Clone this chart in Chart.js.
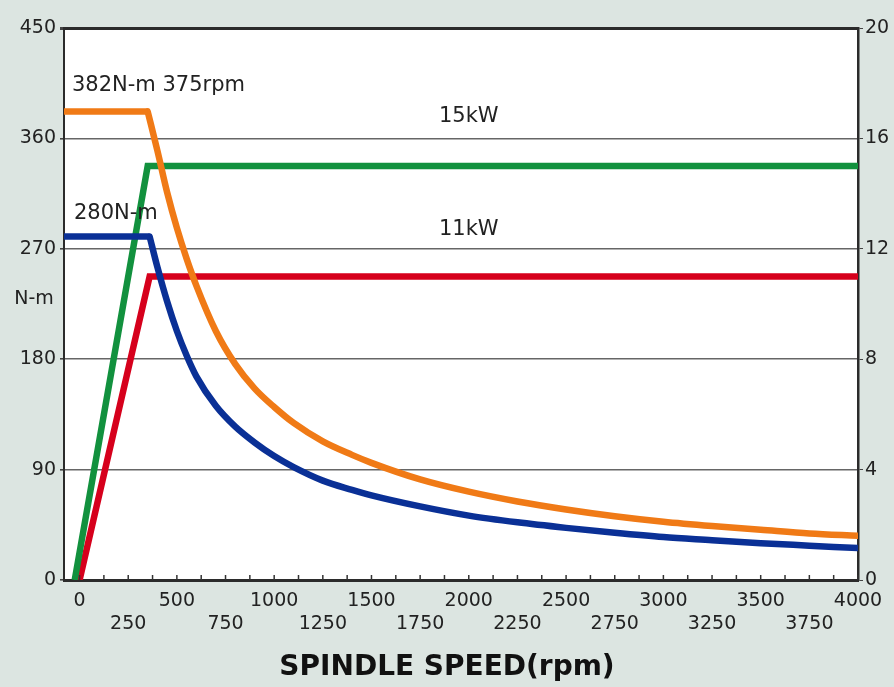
<!DOCTYPE html>
<html>
<head>
<meta charset="utf-8">
<script src="https://cdn.jsdelivr.net/npm/chart.js@4/dist/chart.umd.min.js"></script>
<style>
  html, body { margin: 0; padding: 0; background: #dce5e1; }
  #wrap { width: 894px; height: 687px; }
</style>
</head>
<body>
<div id="wrap"><canvas id="c" width="894" height="687"></canvas></div>
<script>
// ---- data ----
const xMajorLabels = [0, 500, 1000, 1500, 2000, 2500, 3000, 3500, 4000];
const xMinorLabels = [250, 750, 1250, 1750, 2250, 2750, 3250, 3750];
const torqueTicks = [0, 90, 180, 270, 360, 450];
const powerTicks = [0, 4, 8, 12, 16, 20];

// 15 kW torque curve (N-m); first two points are the constant-torque part
const torque15Rpm = [-80, 350, 400, 450, 500, 550, 600, 700, 800, 900, 1000, 1100, 1250, 1400, 1500, 1750, 2000, 2250, 2500, 2750, 3000, 3250, 3500, 3750, 4000];
const torque15Val = [382, 382, 350, 316, 287, 262, 240, 203, 176, 156, 141, 128, 113, 102, 95.5, 82, 72, 64, 57.5, 52, 47.5, 44, 41, 38, 36];

// 11 kW torque curve (N-m); first two points are the constant-torque part
const torque11Rpm = [-80, 360, 400, 450, 500, 550, 600, 700, 800, 900, 1000, 1100, 1250, 1400, 1500, 1750, 2000, 2250, 2500, 2750, 3000, 3250, 3500, 3750, 4000];
const torque11Val = [280, 280, 255, 227, 203, 183, 166, 142, 125, 112, 101, 92, 81, 73.5, 69, 60, 52.5, 47, 42.5, 38.5, 35, 32.5, 30, 28, 26];

// 15 kW power curve (kW)
const power15Rpm = [-25, 350, 4000];
const power15Val = [0, 15, 15];

// 11 kW power curve (kW)
const power11Rpm = [0, 360, 4000];
const power11Val = [0, 11, 11];

const zip = (xs, ys) => xs.map((x, i) => ({ x: x, y: ys[i] }));

const FONT = "'DejaVu Sans', 'Liberation Sans', sans-serif";
const TEXT = '#222';
const ORANGE = 'rgb(240,122,22)';
const BLUE = 'rgb(10,48,150)';
const GREEN = 'rgb(18,145,62)';
const RED = 'rgb(214,0,28)';

const bgPlugin = {
  id: 'bg',
  beforeDraw(chart) {
    const { ctx, chartArea: a } = chart;
    ctx.save();
    ctx.fillStyle = '#dce5e1';
    ctx.fillRect(0, 0, chart.width, chart.height);
    ctx.fillStyle = '#ffffff';
    ctx.fillRect(a.left, a.top, a.right - a.left, a.bottom - a.top);
    ctx.restore();
  }
};

const decoPlugin = {
  id: 'deco',
  afterDraw(chart) {
    const { ctx, chartArea: a, scales } = chart;
    const x = scales.x, y = scales.y, y2 = scales.y2;
    ctx.save();
    // small inside tick marks on the speed axis
    ctx.strokeStyle = '#333';
    ctx.lineWidth = 1.5;
    for (let v = 0; v <= 4000; v += 125) {
      const px = x.getPixelForValue(v);
      ctx.beginPath();
      ctx.moveTo(px, a.bottom);
      ctx.lineTo(px, a.bottom - 5);
      ctx.stroke();
    }
    // annotations
    ctx.fillStyle = TEXT;
    ctx.textBaseline = 'middle';
    ctx.font = "21px " + FONT;
    ctx.textAlign = 'left';
    ctx.fillText('382N-m 375rpm', a.left + 8, y.getPixelForValue(403));
    ctx.fillText('280N-m', a.left + 10, y.getPixelForValue(299));
    ctx.textAlign = 'center';
    ctx.fillText('15kW', x.getPixelForValue(2000), y2.getPixelForValue(16.8));
    ctx.fillText('11kW', x.getPixelForValue(2000), y2.getPixelForValue(12.7));
    // axis titles
    ctx.font = "19px " + FONT;
    ctx.fillText('N-m', 34, y.getPixelForValue(229));
    ctx.font = "bold 28px " + FONT;
    ctx.fillStyle = '#111';
    ctx.fillText('SPINDLE SPEED(rpm)', chart.width / 2, 668);
    ctx.restore();
  }
};

const common = { borderWidth: 6.5, pointRadius: 0, fill: false };

new Chart(document.getElementById('c'), {
  type: 'line',
  data: {
    datasets: [
      Object.assign({ label: '15kW torque flat', data: zip(torque15Rpm.slice(0, 2), torque15Val.slice(0, 2)), yAxisID: 'y',
        borderColor: ORANGE, tension: 0, order: 0 }, common),
      Object.assign({ label: '15kW torque', data: zip(torque15Rpm.slice(1), torque15Val.slice(1)), yAxisID: 'y',
        borderColor: ORANGE, cubicInterpolationMode: 'monotone', borderCapStyle: 'round', order: 0 }, common),
      Object.assign({ label: '11kW torque flat', data: zip(torque11Rpm.slice(0, 2), torque11Val.slice(0, 2)), yAxisID: 'y',
        borderColor: BLUE, tension: 0, order: 1 }, common),
      Object.assign({ label: '11kW torque', data: zip(torque11Rpm.slice(1), torque11Val.slice(1)), yAxisID: 'y',
        borderColor: BLUE, cubicInterpolationMode: 'monotone', borderCapStyle: 'round', order: 1 }, common),
      Object.assign({ label: '15kW power', data: zip(power15Rpm, power15Val), yAxisID: 'y2',
        borderColor: GREEN, tension: 0, order: 2 }, common),
      Object.assign({ label: '11kW power', data: zip(power11Rpm, power11Val), yAxisID: 'y2',
        borderColor: RED, tension: 0, order: 3 }, common)
    ]
  },
  options: {
    responsive: false,
    animation: false,
    layout: { padding: { top: 28, left: 0, right: 0, bottom: 0 } },
    plugins: { legend: { display: false }, tooltip: { enabled: false }, title: { display: false } },
    scales: {
      x: {
        type: 'linear', min: -80, max: 4000,
        afterBuildTicks(scale) {
          scale.ticks = xMajorLabels.concat(xMinorLabels).sort((a, b) => a - b).map(v => ({ value: v }));
        },
        afterFit(scale) { scale.height = 107; },
        grid: { drawOnChartArea: false, drawTicks: false },
        border: { display: true, color: '#2b2b2b', width: 3 },
        ticks: {
          autoSkip: false, maxRotation: 0, minRotation: 0, padding: 10,
          color: TEXT, font: { family: FONT, size: 19, lineHeight: 1.2 },
          callback(v) {
            if (xMajorLabels.includes(v)) return [String(v), ''];
            if (xMinorLabels.includes(v)) return ['', String(v)];
            return '';
          }
        }
      },
      y: {
        type: 'linear', position: 'left', min: 0, max: 450,
        afterBuildTicks(scale) { scale.ticks = torqueTicks.map(v => ({ value: v })); },
        afterFit(scale) { scale.width = 64; },
        grid: {
          color: ctx => (ctx.tick && ctx.tick.value === 450) ? '#2b2b2b' : '#666',
          lineWidth: ctx => (ctx.tick && ctx.tick.value === 450) ? 3 : 1.6,
          tickLength: 4, tickColor: '#444'
        },
        border: { display: true, color: '#2b2b2b', width: 2 },
        ticks: { color: TEXT, padding: 4, font: { family: FONT, size: 19 } }
      },
      y2: {
        type: 'linear', position: 'right', min: 0, max: 20,
        afterBuildTicks(scale) { scale.ticks = powerTicks.map(v => ({ value: v })); },
        afterFit(scale) { scale.width = 36; },
        grid: { drawOnChartArea: false, tickLength: 5, tickColor: '#444' },
        border: { display: true, color: '#2b2b2b', width: 2.5 },
        ticks: { color: TEXT, padding: 2, font: { family: FONT, size: 19 } }
      }
    }
  },
  plugins: [bgPlugin, decoPlugin]
});
</script>
</body>
</html>
